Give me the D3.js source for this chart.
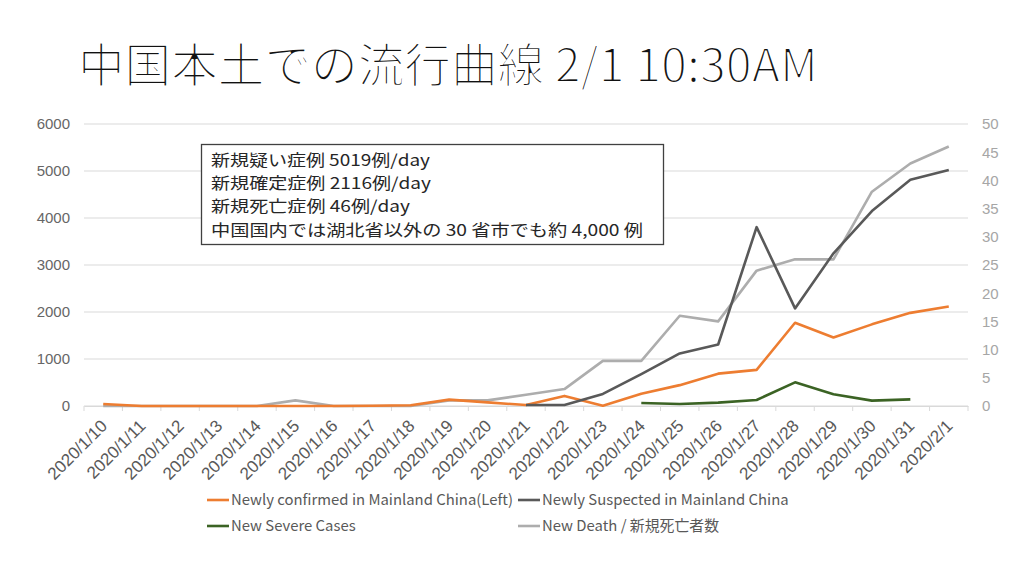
<!DOCTYPE html>
<html lang="ja">
<head>
<meta charset="UTF-8">
<title>中国本土での流行曲線</title>
<script src="https://d3js.org/d3.v7.min.js"></script>
<style>
  body { margin: 0; background: #fff; }
  svg { display: block; font-family: "Noto Sans CJK JP", "Noto Sans", sans-serif; }
</style>
</head>
<body>
<svg width="1024" height="576"></svg>
<script>
// データ
const dates = ["2020/1/10","2020/1/11","2020/1/12","2020/1/13","2020/1/14","2020/1/15","2020/1/16",
  "2020/1/17","2020/1/18","2020/1/19","2020/1/20","2020/1/21","2020/1/22","2020/1/23","2020/1/24",
  "2020/1/25","2020/1/26","2020/1/27","2020/1/28","2020/1/29","2020/1/30","2020/1/31","2020/2/1"];
const confirmed = [41, 0, 0, 0, 0, 0, 0, 4, 17, 136, 77, 20, 215, 5, 259, 444, 688, 769, 1771, 1459, 1737, 1982, 2116];
const suspected = [null, null, null, null, null, null, null, null, null, null, null, 20, 20, 257, 680, 1118, 1309, 3806, 2077, 3248, 4148, 4812, 5019];
const severe = [null, null, null, null, null, null, null, null, null, null, null, null, null, null, 64, 43, 71, 128, 504, 249, 114, 142, null];
const deaths = [0, 0, 0, 0, 0, 1, 0, 0, 0, 1, 1, 2, 3, 8, 8, 16, 15, 24, 26, 26, 38, 43, 46];
const leftTicks = [0, 1000, 2000, 3000, 4000, 5000, 6000];
const rightTicks = [0, 5, 10, 15, 20, 25, 30, 35, 40, 45, 50];
const noteLines = ["新規疑い症例 5019例/day", "新規確定症例 2116例/day", "新規死亡症例 46例/day",
  "中国国内では湖北省以外の 30 省市でも約 4,000 例"];

const svg = d3.select("svg");
const plotL = 84, plotR = 968, plotT = 124, plotB = 406;

const x = d3.scaleBand().domain(dates).range([plotL, plotR]);
const yL = d3.scaleLinear().domain([0, 6000]).range([plotB, plotT]);
const yR = d3.scaleLinear().domain([0, 50]).range([plotB, plotT]);

// 文字の大きさを幅に合わせる
function fitSize(node, fs, width) {
  return fs * width / node.getComputedTextLength();
}

// タイトル（細字に見せるため白い縁取りで削る）
const title = svg.append("text")
  .attr("x", 78).attr("y", 82)
  .attr("font-size", 46).attr("fill", "#111")
  .attr("stroke", "#fff").attr("stroke-width", 2)
  .text("中国本土での流行曲線 2/1 10:30AM");
title.attr("font-size", fitSize(title.node(), 46, 740).toFixed(2));

// グリッド線
svg.append("g").selectAll("line").data(leftTicks).join("line")
  .attr("x1", plotL).attr("x2", plotR)
  .attr("y1", d => yL(d)).attr("y2", d => yL(d))
  .attr("stroke", "#d9d9d9").attr("stroke-width", 1);

// 左軸
const axL = svg.append("g").attr("transform", `translate(${plotL - 14},0)`)
  .call(d3.axisLeft(yL).tickValues(leftTicks).tickFormat(d3.format("d")).tickSize(0).tickPadding(0));
axL.select(".domain").remove();
axL.selectAll("text").attr("font-size", 15).attr("fill", "#666").attr("font-family", null);

// 右軸
const axR = svg.append("g").attr("transform", `translate(${plotR + 14},0)`)
  .call(d3.axisRight(yR).tickValues(rightTicks).tickSize(0).tickPadding(0));
axR.select(".domain").remove();
axR.selectAll("text").attr("font-size", 15).attr("fill", "#a6a6a6").attr("font-family", null);

// X軸
const axX = svg.append("g").attr("transform", `translate(0,${plotB})`)
  .call(d3.axisBottom(x).tickSize(0));
axX.select(".domain").attr("stroke", "#d9d9d9");
const xLabels = axX.selectAll(".tick text")
  .attr("font-size", 15).attr("fill", "#595959").attr("font-family", null)
  .attr("text-anchor", "end").attr("dy", null).attr("y", null);
const xfs = fitSize(xLabels.node(), 15, 76);
xLabels.attr("font-size", xfs.toFixed(2))
  .attr("transform", "translate(5,21) rotate(-45)");
// 区切りの目盛り
svg.append("g").selectAll("line").data(d3.range(dates.length + 1)).join("line")
  .attr("x1", i => plotL + i * x.step()).attr("x2", i => plotL + i * x.step())
  .attr("y1", plotB).attr("y2", plotB + 5)
  .attr("stroke", "#d9d9d9");

// 系列
const cx = d => x(d) + x.bandwidth() / 2;
const series = [
  { name: "Newly confirmed in Mainland China(Left)", values: confirmed, y: yL, color: "#ED7D31" },
  { name: "Newly Suspected in Mainland China", values: suspected, y: yL, color: "#595959" },
  { name: "New Severe Cases", values: severe, y: yL, color: "#3B6324" },
  { name: "New Death / 新規死亡者数", values: deaths, y: yR, color: "#ADADAD" }
];
const drawOrder = [3, 2, 0, 1];
drawOrder.forEach(k => {
  const s = series[k];
  const line = d3.line()
    .defined(d => d[1] != null)
    .x(d => cx(d[0])).y(d => s.y(d[1]));
  svg.append("path")
    .datum(dates.map((d, i) => [d, s.values[i]]))
    .attr("fill", "none").attr("stroke", s.color).attr("stroke-width", 2.6)
    .attr("stroke-linejoin", "round")
    .attr("d", line);
});

// 注記ボックス
svg.append("rect")
  .attr("x", 201.5).attr("y", 144.5).attr("width", 462).attr("height", 100)
  .attr("fill", "#fff").attr("stroke", "#404040").attr("stroke-width", 1.3);
const noteWidths = [219, 220, 199, 432];
const note = svg.append("text").attr("font-size", 16).attr("fill", "#262626");
noteLines.forEach((t, i) => {
  note.append("tspan").attr("x", 211).attr("y", 166 + i * 23.2)
    .attr("textLength", noteWidths[i]).attr("lengthAdjust", "spacingAndGlyphs")
    .text(t);
});

// 凡例
const legendPos = [[207, 500], [518, 500], [207, 526], [518, 526]];
const legendTexts = [];
series.forEach((s, i) => {
  const g = svg.append("g").attr("transform", `translate(${legendPos[i][0]},${legendPos[i][1]})`);
  g.append("line").attr("x1", 0).attr("x2", 22).attr("stroke", s.color).attr("stroke-width", 2.6);
  legendTexts.push(g.append("text").attr("x", 24).attr("dy", "0.35em")
    .attr("font-size", 14.5).attr("fill", "#595959").text(s.name));
});
const lfs = fitSize(legendTexts[0].node(), 14.5, 282);
legendTexts.forEach(t => t.attr("font-size", lfs.toFixed(2)));
</script>
</body>
</html>
